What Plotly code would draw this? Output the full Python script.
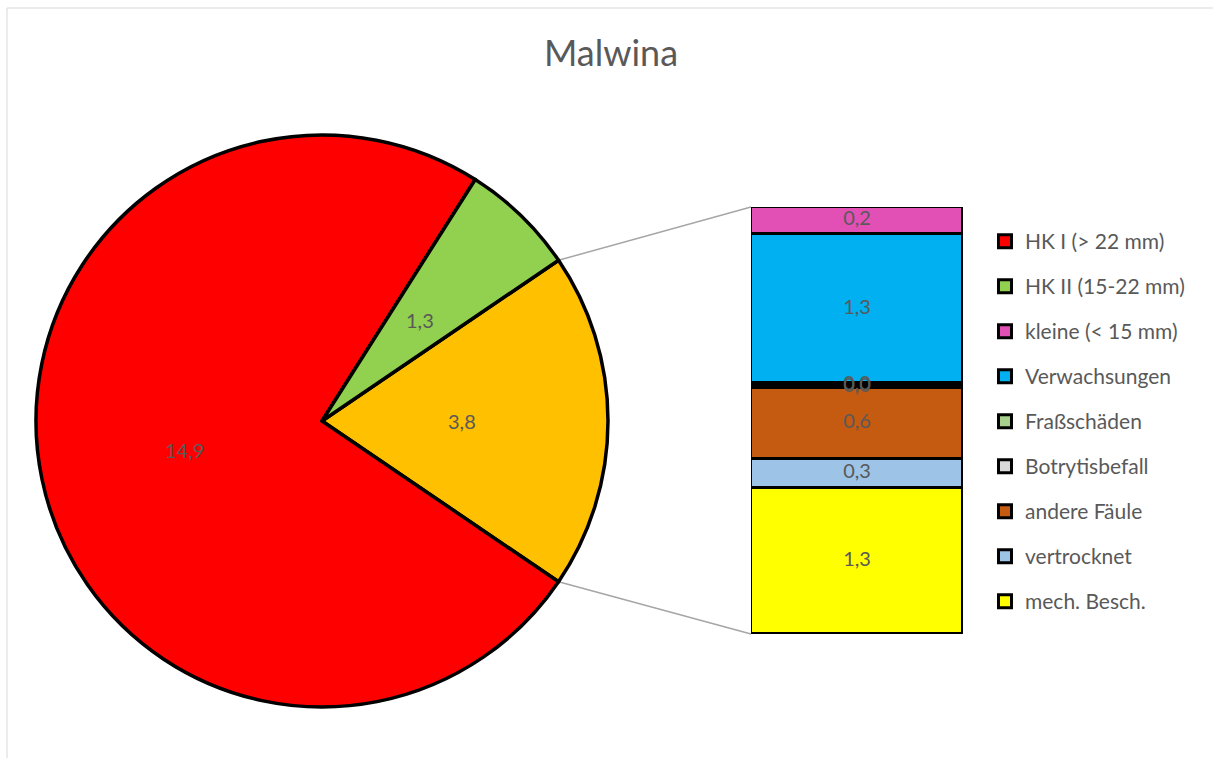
import math
import plotly.graph_objects as go

# ---------------- data ----------------
title_text = "Malwina"
main_labels = ["HK I (> 22 mm)", "HK II (15-22 mm)"]
main_values = [14.9, 1.3]
main_colors = ["#FF0000", "#92D050"]

small_labels = ["kleine (< 15 mm)", "Verwachsungen", "Fraßschäden", "Botrytisbefall",
                "andere Fäule", "vertrocknet", "mech. Besch."]
small_values = [0.24, 1.33, 0.02, 0.02, 0.63, 0.26, 1.30]
small_colors = ["#E24FB5", "#00B0F0", "#A9D18E", "#D9D9D9", "#C55A11", "#9DC3E6", "#FFFF00"]
other_color = "#FFC000"

# ---------------- layout constants ----------------
W, H = 1213, 758
FONT = "Lato"
GREY = "#595959"
pie_px = dict(x0=36, x1=608, y0=134, y1=708)     # pie domain in pixels
bar_px = dict(x0=751, x1=963, y0=207, y1=634)    # bar domain in pixels
LABEL_R = 0.49                                   # radial position of pie labels

pie_dom_x = [pie_px["x0"] / W, pie_px["x1"] / W]
pie_dom_y = [1 - pie_px["y1"] / H, 1 - pie_px["y0"] / H]
bar_dom_x = [bar_px["x0"] / W, bar_px["x1"] / W]
bar_dom_y = [1 - bar_px["y1"] / H, 1 - bar_px["y0"] / H]

other_total = sum(small_values)
pie_values = [other_total] + main_values
pie_labels = ["Sonstige"] + main_labels
pie_colors = [other_color] + main_colors
grand_total = sum(pie_values)
other_angle = 360.0 * other_total / grand_total
rotation = 90.0 - other_angle / 2.0

fig = go.Figure()

fig.add_trace(go.Pie(
    labels=pie_labels, values=pie_values, sort=False, direction="clockwise",
    rotation=rotation, domain=dict(x=pie_dom_x, y=pie_dom_y),
    marker=dict(colors=pie_colors, line=dict(color="black", width=3.5)),
    textinfo="none",
    showlegend=False, hoverinfo="label+value",
))

# pie value labels as annotations on an overlay axis spanning the pie (unit circle coords)
annotations = []
start = rotation  # clockwise from 12 o'clock
for v in pie_values:
    span = 360.0 * v / grand_total
    mid = math.radians(start + span / 2.0)
    annotations.append(dict(
        x=LABEL_R * math.sin(mid), y=LABEL_R * math.cos(mid), xref="x2", yref="y2",
        text=f"{v:.1f}".replace(".", ","), showarrow=False,
        font=dict(family=FONT, size=20, color=GREY),
    ))
    start += span

# stacked bar (bottom-up = reversed order)
cum = 0.0
mids = []
for lab, val, col in list(zip(small_labels, small_values, small_colors))[::-1]:
    fig.add_trace(go.Bar(
        x=[0], y=[val], name=lab, width=1,
        marker=dict(color=col, line=dict(color="black", width=3.5)),
        showlegend=False, xaxis="x", yaxis="y", hoverinfo="name+y",
    ))
    mids.append((cum + val / 2.0, val))
    cum += val

fig.add_trace(go.Scatter(
    x=[0] * len(mids), y=[m for m, _ in mids], mode="text",
    text=[f"{v:.1f}".replace(".", ",") for _, v in mids],
    textfont=dict(family=FONT, size=20, color=GREY),
    showlegend=False, hoverinfo="skip", xaxis="x", yaxis="y",
))

# legend entries
for lab, col in zip(main_labels + small_labels, main_colors + small_colors):
    fig.add_trace(go.Scatter(
        x=[None], y=[None], mode="markers", name=lab, legendgroup=lab,
        marker=dict(symbol="square", size=13, color=col, line=dict(color="black", width=3)),
        xaxis="x", yaxis="y",
    ))

# connector lines from pie edge to bar
cx = (pie_px["x0"] + pie_px["x1"]) / 2.0
cy = (pie_px["y0"] + pie_px["y1"]) / 2.0
R = min(pie_px["x1"] - pie_px["x0"], pie_px["y1"] - pie_px["y0"]) / 2.0
half = math.radians(other_angle / 2.0)
shapes = []
for sign, by in [(1, bar_dom_y[1]), (-1, bar_dom_y[0])]:
    px = cx + R * math.cos(half)
    py = cy - sign * R * math.sin(half)
    shapes.append(dict(type="line", xref="paper", yref="paper",
                       x0=px / W, y0=1 - py / H, x1=bar_dom_x[0], y1=by,
                       line=dict(color="#A6A6A6", width=1.5), layer="below"))
# chart frame (top and left edges visible in the crop)
shapes.append(dict(type="line", xref="paper", yref="paper",
                   x0=7 / W, y0=1 - 8 / H, x1=1, y1=1 - 8 / H,
                   line=dict(color="#D9D9D9", width=1), layer="below"))
shapes.append(dict(type="line", xref="paper", yref="paper",
                   x0=7 / W, y0=1 - 8 / H, x1=7 / W, y1=0,
                   line=dict(color="#D9D9D9", width=1), layer="below"))

fig.update_layout(
    width=W, height=H, margin=dict(l=0, r=0, t=0, b=0),
    paper_bgcolor="white", plot_bgcolor="rgba(0,0,0,0)",
    separators=",.",
    barmode="stack", bargap=0,
    title=dict(text=title_text, x=611 / W, xanchor="center", y=1 - 53 / H, yanchor="middle",
               font=dict(family=FONT, size=36, color=GREY)),
    xaxis=dict(domain=bar_dom_x, range=[-0.5, 0.5], visible=False, fixedrange=True),
    yaxis=dict(domain=bar_dom_y, range=[0, other_total], visible=False, fixedrange=True),
    xaxis2=dict(domain=pie_dom_x, range=[-1, 1], visible=False, fixedrange=True),
    yaxis2=dict(domain=pie_dom_y, range=[-1, 1], visible=False, fixedrange=True),
    legend=dict(x=985 / W, xanchor="left", y=1 - 421.5 / H, yanchor="middle",
                font=dict(family=FONT, size=21, color=GREY),
                traceorder="grouped", tracegroupgap=14.7, bgcolor="rgba(0,0,0,0)"),
    shapes=shapes,
    annotations=annotations,
    showlegend=True,
)

fig.write_html("out.html", config={"displayModeBar": False},
               post_script="document.body.style.margin='0';document.body.style.overflow='hidden';")
